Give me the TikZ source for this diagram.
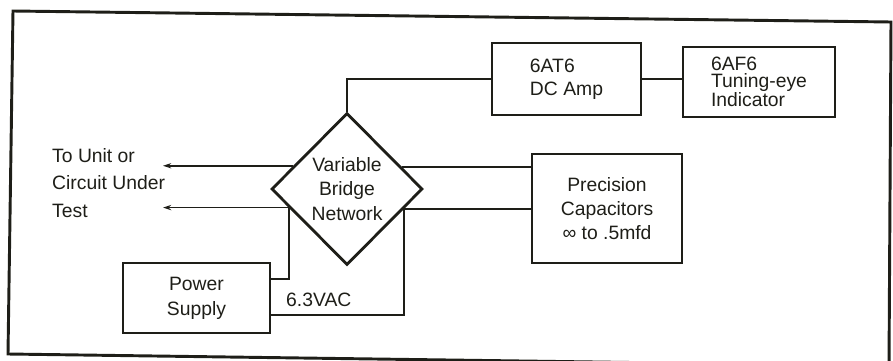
\documentclass[tikz,border=0pt]{standalone}
\usepackage{fontspec}
\setmainfont{Liberation Sans}
\usetikzlibrary{positioning, arrows.meta, shapes.geometric, calc}
\definecolor{inkdark}{RGB}{30,30,24}
\tikzset{
    blockbox/.style={rectangle, draw=inkdark, line width=2.4pt, align=center, font=\fontsize{16.5}{21}\selectfont, text=inkdark, inner sep=2pt},
    bridgestyle/.style={diamond, draw=inkdark, line width=2.4pt, aspect=1, inner sep=0pt, align=center, font=\fontsize{16.5}{20.9}\selectfont, text=inkdark},
    wire/.style={line width=1.7pt, draw=inkdark},
    outarrow/.style={-{Stealth[length=7pt, width=4.5pt]}, line width=1.3pt, draw=inkdark},
    lbl/.style={font=\fontsize{16.5}{23.5}\selectfont, text=inkdark, inner sep=0pt, align=left},
    frameline/.style={line width=2.5pt, draw=inkdark, line join=miter}
}

\begin{document}
\begin{tikzpicture}[x=0.03cm, y=-0.03cm]
        \useasboundingbox (0,0) rectangle (893,360);
        \clip (0,0) rectangle (893,360);
        % === Outer frame ===
        \draw[frameline] (13,11) -- (891,22) -- (889,366) -- (8,354) -- cycle;

        % === Blocks ===
        \node[blockbox, align=left, font=\fontsize{16.5}{19.6}\selectfont, minimum width=4.47cm, minimum height=2.16cm] (amp) at (566.5,79) {6AT6\\DC Amp};
        \node[blockbox, align=left, font=\fontsize{16.5}{14.9}\selectfont, minimum width=4.56cm, minimum height=2.1cm] (eye) at (759,82) {6AF6\\Tuning-eye\\Indicator};
        \node[bridgestyle, minimum width=4.53cm, minimum height=4.56cm] (bridge) at (347,189) {Variable\\Bridge\\Network};
        \node[blockbox, font=\fontsize{16.5}{20.5}\selectfont, minimum width=4.5cm, minimum height=3.27cm] (prec) at (607,208.5) {Precision\\Capacitors\\∞ to .5mfd};
        \node[blockbox, font=\fontsize{16.5}{21.3}\selectfont, minimum width=4.41cm, minimum height=2.1cm] (ps) at (196.5,298) {Power\\Supply};

        % === Labels ===
        \node[lbl, anchor=north west] (dut) at (52,148) {To Unit or\\Circuit Under\\Test};
        \node[lbl, anchor=base west] (vac) at (286,306) {6.3VAC};

        % === Tap points on the bridge and the supply ===
        \coordinate (wA) at ($(bridge.west)!0.30!(bridge.north)$);
        \coordinate (wB) at ($(bridge.west)!0.24!(bridge.south)$);
        \coordinate (eA) at ($(bridge.east)!0.28!(bridge.north)$);
        \coordinate (eB) at ($(bridge.east)!0.26!(bridge.south)$);
        \coordinate (psA) at ($(ps.north east)!0.24!(ps.south east)$);
        \coordinate (psB) at ($(ps.south east)!0.26!(ps.north east)$);
        \coordinate (tgtA) at (163,166);
        \coordinate (tgtB) at (163,207);

        % === Connectors ===
        \draw[wire] (bridge.north) |- (amp.west);
        \draw[wire] (amp.east) -- (amp.east -| eye.west);
        \draw[outarrow] (wA) -- (wA -| tgtA);
        \draw[outarrow] (wB) -- (wB -| tgtB);
        \draw[wire] (eA) -- (eA -| prec.west);
        \draw[wire] (eB) -- (eB -| prec.west);
        \draw[wire] (wB) |- (psA);
        \draw[wire] (eB) |- (psB);
    \end{tikzpicture}
\end{document}
